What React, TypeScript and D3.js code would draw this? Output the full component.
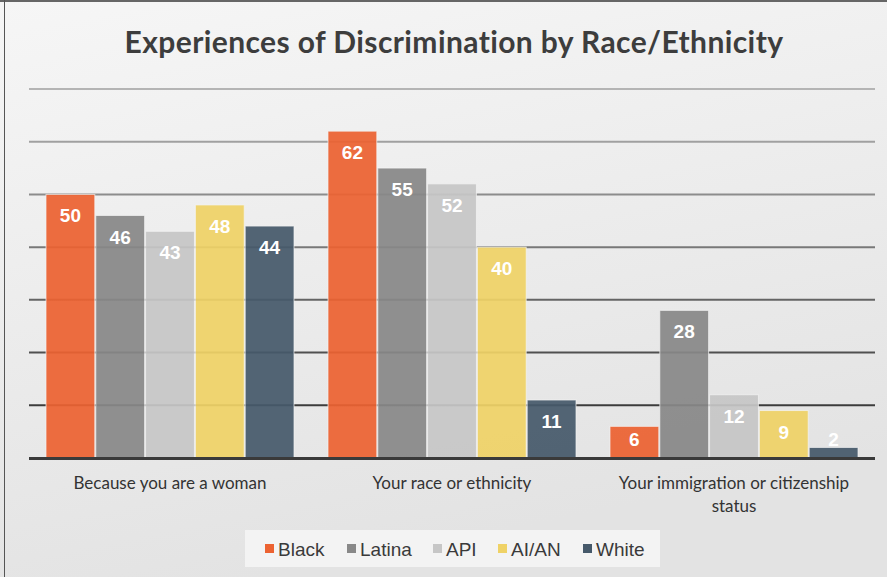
import { useEffect, useRef } from "react";
import * as d3 from "d3";

const categories = [
  "Because you are a woman",
  "Your race or ethnicity",
  "Your immigration or citizenship status",
];
const series = ["Black", "Latina", "API", "AI/AN", "White"];
const black = [50, 62, 6];
const latina = [46, 55, 28];
const api = [43, 52, 12];
const aian = [48, 40, 9];
const white = [44, 11, 2];
const yTicks = [0, 10, 20, 30, 40, 50, 60, 70];

const COLORS: Record<string, string> = {
  Black: "#ec6231",
  Latina: "#888888",
  API: "#c6c6c6",
  "AI/AN": "#efd266",
  White: "#46596a",
};

const WIDTH = 887;
const HEIGHT = 577;

export default function App() {
  const svgRef = useRef<SVGSVGElement>(null);

  useEffect(() => {
    if (!svgRef.current) return;
    const svg = d3.select(svgRef.current);
    svg.selectAll("*").remove();

    const values = [black, latina, api, aian, white];
    const margin = { top: 89, right: 12, bottom: 119, left: 29 };

    // background
    const defs = svg.append("defs");
    const bg = defs
      .append("linearGradient")
      .attr("id", "bg")
      .attr("x1", "0").attr("y1", "0").attr("x2", "0.3").attr("y2", "1");
    bg.append("stop").attr("offset", "0%").attr("stop-color", "#f6f6f6");
    bg.append("stop").attr("offset", "100%").attr("stop-color", "#e3e3e3");

    svg.append("rect")
      .attr("width", WIDTH).attr("height", HEIGHT)
      .attr("fill", "url(#bg)");
    // frame edges
    svg.append("line")
      .attr("x1", 0).attr("y1", 1).attr("x2", WIDTH).attr("y2", 1)
      .attr("stroke", "#666").attr("stroke-width", 2);
    svg.append("line")
      .attr("x1", 4.5).attr("y1", 0).attr("x2", 4.5).attr("y2", HEIGHT)
      .attr("stroke", "#555").attr("stroke-width", 1);

    // title
    svg.append("text")
      .attr("x", 454).attr("y", 53)
      .attr("text-anchor", "middle")
      .attr("fill", "#3d3d3d")
      .attr("font-family", "Lato, sans-serif")
      .attr("font-weight", "700")
      .attr("font-size", "30px")
      .attr("letter-spacing", "0.4px")
      .text("Experiences of Discrimination by Race/Ethnicity");

    const x0 = d3.scaleBand<string>()
      .domain(categories)
      .range([margin.left, WIDTH - margin.right])
      .paddingInner(0.117)
      .paddingOuter(0.0585);
    const x1 = d3.scaleBand<string>()
      .domain(series)
      .range([0, x0.bandwidth()]);
    const y = d3.scaleLinear()
      .domain([0, 70])
      .range([HEIGHT - margin.bottom, margin.top]);

    // gridlines
    const gridColor = d3.scaleLinear<string>()
      .domain([70, 10])
      .range(["#b4b4b4", "#3c3c3c"]);
    yTicks.filter((t) => t > 0).forEach((t) => {
      svg.append("line")
        .attr("x1", margin.left).attr("x2", WIDTH - margin.right)
        .attr("y1", y(t)).attr("y2", y(t))
        .attr("stroke", gridColor(t))
        .attr("stroke-width", 2);
    });

    // bars
    categories.forEach((cat, ci) => {
      const g = svg.append("g").attr("transform", `translate(${x0(cat)},0)`);
      series.forEach((s, si) => {
        const v = values[si][ci];
        g.append("rect")
          .attr("x", x1(s)! + 0.5)
          .attr("y", y(v))
          .attr("width", x1.bandwidth() - 1)
          .attr("height", y(0) - y(v))
          .attr("fill", COLORS[s])
          .attr("fill-opacity", 0.93)
          .attr("stroke", "#f4f4f4")
          .attr("stroke-opacity", 0.7)
          .attr("stroke-width", 1);
        // label sits inside near the top, but never lower than 12px above the axis
        g.append("text")
          .attr("x", x1(s)! + x1.bandwidth() / 2)
          .attr("y", Math.min(y(v) + 28, y(0) - 12))
          .attr("text-anchor", "middle")
          .attr("fill", "#ffffff")
          .attr("font-family", "Liberation Sans, Arial, sans-serif")
          .attr("font-weight", "700")
          .attr("font-size", "19px")
          .text(v);
      });
    });

    // baseline
    svg.append("line")
      .attr("x1", margin.left).attr("x2", WIDTH - margin.right)
      .attr("y1", y(0) + 0.5).attr("y2", y(0) + 0.5)
      .attr("stroke", "#3a3a3a")
      .attr("stroke-width", 3);

    // category labels
    const wrap: Record<string, string[]> = {
      "Your immigration or citizenship status": ["Your immigration or citizenship", "status"],
    };
    categories.forEach((cat) => {
      const lines = wrap[cat] || [cat];
      lines.forEach((line, li) => {
        svg.append("text")
          .attr("x", x0(cat)! + x0.bandwidth() / 2)
          .attr("y", y(0) + 31 + li * 23)
          .attr("text-anchor", "middle")
          .attr("fill", "#333")
          .attr("font-family", "Lato, sans-serif")
          .attr("font-size", "17px")
          .text(line);
      });
    });

    // legend
    svg.append("rect")
      .attr("x", 245).attr("y", 530)
      .attr("width", 415).attr("height", 37)
      .attr("fill", "#f3f3f3");
    const legendX = [265, 347, 433, 498, 583];
    series.forEach((s, i) => {
      svg.append("rect")
        .attr("x", legendX[i]).attr("y", 544)
        .attr("width", 9).attr("height", 9)
        .attr("fill", COLORS[s]);
      svg.append("text")
        .attr("x", legendX[i] + 13).attr("y", 556)
        .attr("fill", "#3a3a3a")
        .attr("font-family", "Liberation Sans, Arial, sans-serif")
        .attr("font-size", "19px")
        .text(s);
    });
  }, []);

  return (
    <div style={{ position: "absolute", left: 0, top: 0 }}>
      <svg ref={svgRef} width={WIDTH} height={HEIGHT} style={{ display: "block" }} />
    </div>
  );
}
